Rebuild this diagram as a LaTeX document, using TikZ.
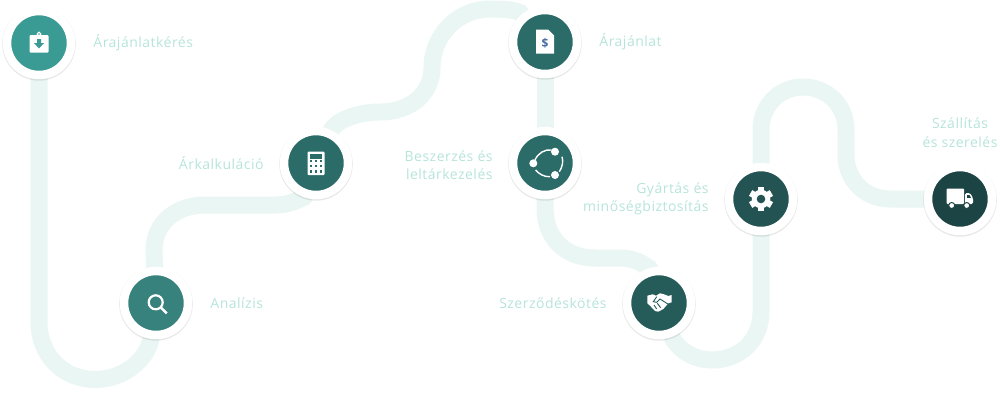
\documentclass[tikz,border=0pt]{standalone}
\usepackage{fontspec}
\setmainfont[LetterSpace=3.5]{Open Sans}
\usetikzlibrary{positioning,backgrounds,shadows}
\definecolor{roadcol}{HTML}{E9F6F3}
\definecolor{labelcol}{HTML}{B6E4DA}
\definecolor{rfqcol}{HTML}{3A9A94}
\definecolor{analysiscol}{HTML}{37827C}
\definecolor{calccol}{HTML}{2B6C69}
\definecolor{stockcol}{HTML}{2B6B68}
\definecolor{contractcol}{HTML}{255C5A}
\definecolor{prodcol}{HTML}{235352}
\definecolor{shipcol}{HTML}{1D4444}
\definecolor{dollarcol}{HTML}{4A6FA5}
\tikzset{
    x=1pt, y=-1pt, % one unit is one pixel of the reference, y goes down
    node distance=18pt,
    road/.style={draw=roadcol, line width=17pt, line cap=round},
    stepnode/.style={circle, minimum size=64pt, fill=#1, draw=white, line width=8.5pt,
        general shadow={fill=black, opacity=.09, shadow scale=1.15, shadow yshift=-.8pt}},
    steplabel/.style={inner sep=0pt, text=labelcol, align=#1, font=\fontsize{14}{18.5}\selectfont},
    steplabel/.default=left,
    % white icons, drawn round the centre of their node
    clipicon/.pic={
      \fill[white, rounded corners=1pt] (-9.5,-8) rectangle (9.5,9.5);
      \draw[white, line width=1pt] (0,-9) circle (1.8);
      \fill[rfqcol] (-2,-4) -- (2,-4) -- (2,0) -- (5,0) -- (0,5.5) -- (-5,0) -- (-2,0) -- cycle;
    },
    calcicon/.pic={
      \fill[white, rounded corners=1pt] (-8.5,-11.5) rectangle (8.5,12);
      \fill[calccol] (-6,-9) rectangle (5.5,-4.5);
      \foreach \kx in {-5,0,5} \foreach \ky in {-2.2,3,8.3}
        \fill[calccol] (\kx-1.2,\ky-1.2) rectangle (\kx+1.2,\ky+1.2);
    },
    dollaricon/.pic={
      \fill[white] (-9,-12.5) -- (3,-12.5) -- (9,-6.5) -- (9,11.5) -- (-9,11.5) -- cycle;
      \node[inner sep=0pt, text=dollarcol, font=\fontsize{12}{12}\selectfont\bfseries] at (0,1.5) {\$};
    },
    shareicon/.pic={
      \draw[white, line width=1.4pt] (-10,-3) .. controls (-7,-10) and (0,-14) .. (6.7,-13);
      \draw[white, line width=1.4pt] (17,-6.3) .. controls (18.5,-2) and (17.5,4) .. (14.3,8.7);
      \draw[white, line width=1.4pt] (-9.3,7) .. controls (-6,11) and (-1,14) .. (5,13.7);
      \fill[white] (-11.7,.3) circle (4) (10,-11.3) circle (4) (10,12) circle (4);
    },
    searchicon/.pic={
      \draw[white, line width=2.2pt] (-.3,-.7) circle (7);
      \draw[white, line width=2.4pt] (5,4.6) -- (10.7,10.3);
    },
    shakeicon/.pic={
      \fill[white] (-11.7,-7.3) -- (-6.3,-8.7) -- (-3,-7.3) -- (1,-9.7) -- (5,-8.7) -- (9.3,-7)
        -- (12.7,-8) -- (12.7,-.7) -- (9.3,.3) -- (4.3,6) -- (-.7,8.7) -- (-4,8) -- (-9,2.7)
        -- (-11.7,.3) -- cycle;
      \draw[contractcol, line width=.9pt] (-2.3,-6.3) -- (-5.7,-1.3) -- (-2.3,-.7) -- (1,-4) -- (9.3,1.3);
      \draw[contractcol, line width=.9pt] (-5,2) -- (-2.3,6) (-1.7,.3) -- (1.7,4.7);
    },
    gearicon/.pic={
      \fill[white] (0,0) circle (9.3);
      \foreach \ang in {0,60,...,300}
        \fill[white, rotate=\ang] (-3.3,-12) rectangle (3.3,0);
      \fill[prodcol] (0,0) circle (4.3);
    },
    truckicon/.pic={
      \fill[white, rounded corners=.8pt] (-13.3,-10.5) rectangle (4,5);
      \fill[white, rounded corners=1.5pt] (5,-6) -- (10,-6) -- (13,-1) -- (13,5) -- (5,5) -- cycle;
      \fill[shipcol] (7,-3.8) -- (9.5,-3.8) -- (11,-1.2) -- (7,-1.2) -- cycle;
      \fill[white, draw=shipcol, line width=1pt] (-8.3,6.5) circle (3) (6.7,6.5) circle (3);
    },
}
\begin{document}
\begin{tikzpicture}
  \useasboundingbox (0,0) rectangle (1000,400);

  \node (q_rfq) [stepnode=rfqcol] at (39,43) {};
  \node (q_analysis) [stepnode=analysiscol] at (156,303) {};
  \node (q_calc) [stepnode=calccol] at (316,163) {};
  \node (q_quote) [stepnode=stockcol] at (545,42) {};
  \node (q_stock) [stepnode=stockcol] at (545,163) {};
  \node (q_contract) [stepnode=contractcol] at (659,303) {};
  \node (q_prod) [stepnode=prodcol] at (761,199) {};
  \node (q_ship) [stepnode=shipcol] at (960,199) {};

  \pic at (q_rfq) {clipicon};
  \pic at (q_analysis) {searchicon};
  \pic at (q_calc) {calcicon};
  \pic at (q_quote) {dollaricon};
  \pic at (q_stock) {shareicon};
  \pic at (q_contract) {shakeicon};
  \pic at (q_prod) {gearicon};
  \pic at (q_ship) {truckicon};

  \node (l_rfq) [steplabel, right=of q_rfq] {Árajánlatkérés};
  \node (l_analysis) [steplabel, right=of q_analysis] {Analízis};
  \node (l_calc) [steplabel, left=16pt of q_calc] {Árkalkuláció};
  \node (l_quote) [steplabel, right=of q_quote] {Árajánlat};
  \node (l_stock) [steplabel=right, left=16pt of q_stock, yshift=-2pt] {Beszerzés és\\leltárkezelés};
  \node (l_contract) [steplabel, left=16pt of q_contract] {Szerződéskötés};
  \node (l_prod) [steplabel=right, left=16pt of q_prod] {Gyártás és\\minőségbiztosítás};
  \node (l_ship) [steplabel=center, above=15pt of q_ship] {Szállítás\\és szerelés};

  \begin{scope}[on background layer]
    \path[road] (q_rfq) -- (39,322) .. controls (39,355) and (63,379.5) .. (95,379.5)
      .. controls (125,379.5) and (148,358) .. (q_analysis);
    \path[road] (q_analysis) -- (154,250) .. controls (154,224) and (175,205) .. (205,205)
      -- (275,205) .. controls (295,205) and (305,195) .. (q_calc);
    \path[road] (q_calc) .. controls (335,122) and (355,112) .. (380,112)
      .. controls (412,112) and (432,92) .. (432,68)
      .. controls (432,35) and (458,9) .. (490,9)
      .. controls (503,9) and (512,9.5) .. (520,12.5) -- (q_quote);
    \path[road] (q_quote) -- (q_stock);
    \path[road] (q_stock) -- (545,208) .. controls (545,238) and (565,258) .. (595,258)
      -- (620,258) .. controls (640,258) and (650,270) .. (q_contract);
    \path[road] (q_contract) .. controls (675,345) and (690,360) .. (712,360)
      .. controls (740,360) and (761,340) .. (761,312) -- (q_prod);
    \path[road] (q_prod) -- (761,130) .. controls (761,105) and (780,87) .. (803,87)
      .. controls (827,87) and (846,105) .. (846,130) -- (846,155)
      .. controls (846,180) and (865,199) .. (890,199) -- (q_ship);
  \end{scope}
\end{tikzpicture}
\end{document}
